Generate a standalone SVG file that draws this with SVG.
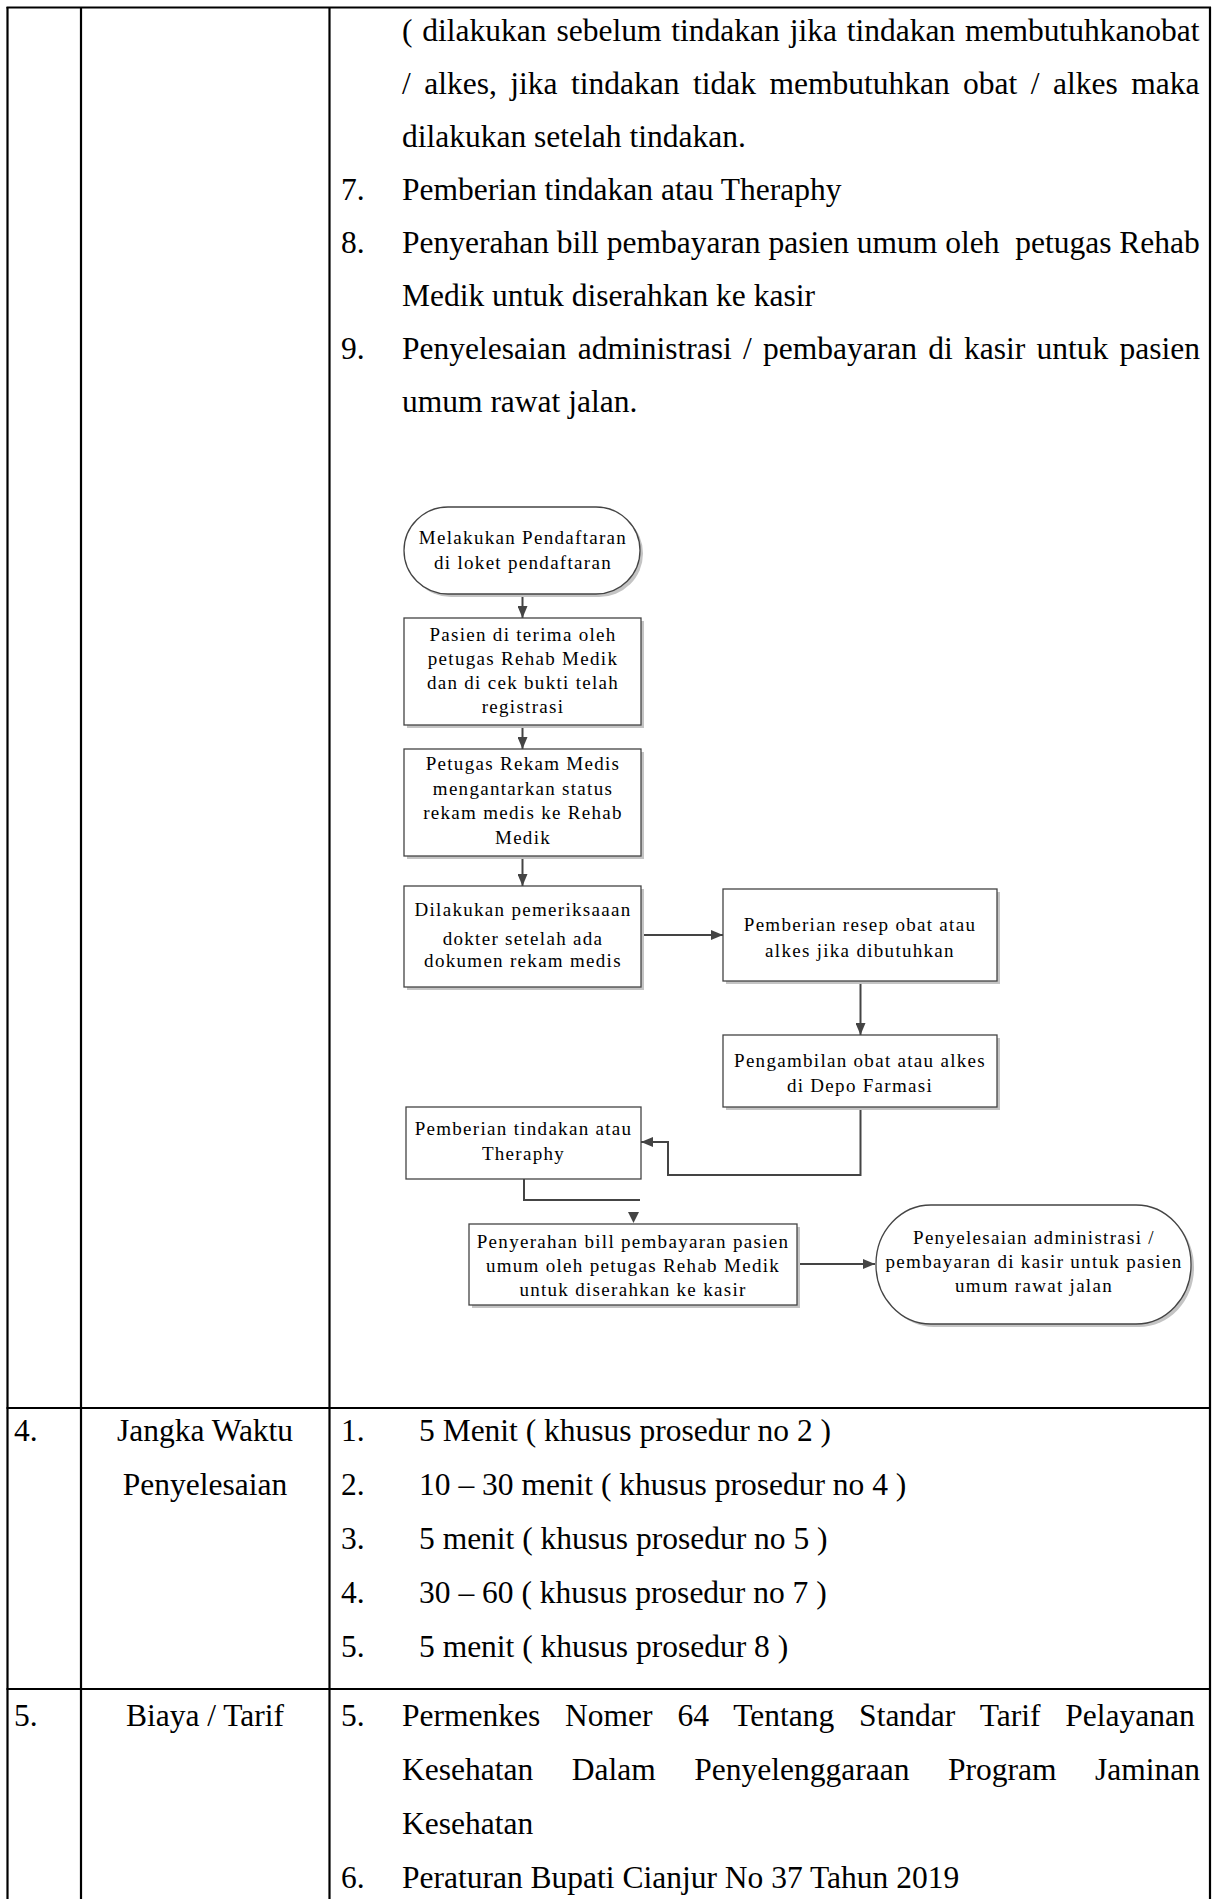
<svg xmlns="http://www.w3.org/2000/svg" width="1219" height="1899" viewBox="0 0 1219 1899">
<style>
.t{font-family:"Liberation Serif","Times New Roman",serif;font-size:31.5px;fill:#000}
.c{text-anchor:middle}
.f{font-family:"Liberation Serif","Times New Roman",serif;font-size:19px;letter-spacing:1.3px;fill:#000;text-anchor:middle}
.grid{stroke:#000;stroke-width:2.2;fill:none}
.node{fill:#fff;stroke:#444;stroke-width:1.3}
.sh{fill:#c4c4c4}
.con{fill:none;stroke:#444;stroke-width:2}
</style>
<defs>
<marker id="ah" viewBox="0 0 12 10" refX="12" refY="5" markerWidth="12" markerHeight="10" markerUnits="userSpaceOnUse" orient="auto">
<path d="M0,0 L12,5 L0,10 Z" fill="#444"/>
</marker>
</defs>
<rect width="1219" height="1899" fill="#fff"/>

<g id="table">
<line class="grid" x1="6.5" y1="7.5" x2="1211" y2="7.5"/>
<line class="grid" x1="7.5" y1="7" x2="7.5" y2="1899"/>
<line class="grid" x1="81" y1="7" x2="81" y2="1899"/>
<line class="grid" x1="329.5" y1="7" x2="329.5" y2="1899"/>
<line class="grid" x1="1210" y1="7" x2="1210" y2="1899"/>
<line class="grid" x1="6.5" y1="1408" x2="1211" y2="1408" stroke-width="2.6"/>
<line class="grid" x1="6.5" y1="1689" x2="1211" y2="1689" stroke-width="2.6"/>
</g>

<g id="procedure-text">
<text class="t" x="402" y="41" word-spacing="2">( dilakukan sebelum tindakan jika tindakan membutuhkanobat</text>
<text class="t" x="402" y="94" word-spacing="5.6">/ alkes, jika tindakan tidak membutuhkan obat / alkes maka</text>
<text class="t" x="402" y="147">dilakukan setelah tindakan.</text>
<text class="t" x="341" y="200">7.</text>
<text class="t" x="402" y="200">Pemberian tindakan atau Theraphy</text>
<text class="t" x="341" y="253">8.</text>
<text class="t" x="402" y="253" style="white-space:pre">Penyerahan bill pembayaran pasien umum oleh  petugas Rehab</text>
<text class="t" x="402" y="306">Medik untuk diserahkan ke kasir</text>
<text class="t" x="341" y="359">9.</text>
<text class="t" x="402" y="359" word-spacing="3.4">Penyelesaian administrasi / pembayaran di kasir untuk pasien</text>
<text class="t" x="402" y="412">umum rawat jalan.</text>
</g>

<g id="connectors">
<line class="con" x1="522.5" y1="594" x2="522.5" y2="618" marker-end="url(#ah)"/>
<line class="con" x1="522.5" y1="725" x2="522.5" y2="749" marker-end="url(#ah)"/>
<line class="con" x1="522.5" y1="856" x2="522.5" y2="886" marker-end="url(#ah)"/>
<line class="con" x1="641" y1="935" x2="723" y2="935" marker-end="url(#ah)"/>
<line class="con" x1="860.5" y1="981" x2="860.5" y2="1035" marker-end="url(#ah)"/>
<polyline class="con" points="860.5,1107 860.5,1175 668,1175 668,1142 641,1142" marker-end="url(#ah)"/>
<polyline class="con" points="524,1179 524,1200 640,1200"/>
<path d="M628,1212 L639,1212 L633.5,1223 Z" fill="#444"/>
<line class="con" x1="797" y1="1264" x2="875" y2="1264" marker-end="url(#ah)"/>
</g>

<g id="n1">
<rect class="sh" x="407" y="510" width="236" height="87" rx="44" ry="43.5"/>
<rect class="node" x="404" y="507" width="236" height="87" rx="44" ry="43.5"/>
<text class="f" x="523" y="544">Melakukan Pendaftaran</text>
<text class="f" x="523" y="569">di loket pendaftaran</text>
</g>

<g id="n2">
<rect class="sh" x="407" y="621" width="237" height="107"/>
<rect class="node" x="404" y="618" width="237" height="107"/>
<text class="f" x="523" y="641">Pasien di terima oleh</text>
<text class="f" x="523" y="665">petugas Rehab Medik</text>
<text class="f" x="523" y="689">dan di cek bukti telah</text>
<text class="f" x="523" y="713">registrasi</text>
</g>

<g id="n3">
<rect class="sh" x="407" y="752" width="237" height="107"/>
<rect class="node" x="404" y="749" width="237" height="107"/>
<text class="f" x="523" y="770">Petugas Rekam Medis</text>
<text class="f" x="523" y="795">mengantarkan status</text>
<text class="f" x="523" y="819">rekam medis ke Rehab</text>
<text class="f" x="523" y="844">Medik</text>
</g>

<g id="n4">
<rect class="sh" x="407" y="889" width="237" height="101"/>
<rect class="node" x="404" y="886" width="237" height="101"/>
<text class="f" x="523" y="916">Dilakukan pemeriksaaan</text>
<text class="f" x="523" y="945">dokter setelah ada</text>
<text class="f" x="523" y="967">dokumen rekam medis</text>
</g>

<g id="n5">
<rect class="sh" x="726" y="892" width="274" height="92"/>
<rect class="node" x="723" y="889" width="274" height="92"/>
<text class="f" x="860" y="931">Pemberian resep obat atau</text>
<text class="f" x="860" y="957">alkes jika dibutuhkan</text>
</g>

<g id="n6">
<rect class="sh" x="726" y="1038" width="274" height="72"/>
<rect class="node" x="723" y="1035" width="274" height="72"/>
<text class="f" x="860" y="1067">Pengambilan obat atau alkes</text>
<text class="f" x="860" y="1092">di Depo Farmasi</text>
</g>

<g id="n7">
<rect class="node" x="406" y="1107" width="235" height="72"/>
<text class="f" x="523.5" y="1135">Pemberian tindakan atau</text>
<text class="f" x="523.5" y="1160">Theraphy</text>
</g>

<g id="n8">
<rect class="sh" x="472" y="1227" width="328" height="81"/>
<rect class="node" x="469" y="1224" width="328" height="81"/>
<text class="f" x="633" y="1248">Penyerahan bill pembayaran pasien</text>
<text class="f" x="633" y="1272">umum oleh petugas Rehab Medik</text>
<text class="f" x="633" y="1296">untuk diserahkan ke kasir</text>
</g>

<g id="n9">
<rect class="sh" x="879" y="1208" width="315" height="119" rx="55" ry="59"/>
<rect class="node" x="876" y="1205" width="315" height="119" rx="55" ry="59"/>
<text class="f" x="1034" y="1244">Penyelesaian administrasi /</text>
<text class="f" x="1034" y="1268">pembayaran di kasir untuk pasien</text>
<text class="f" x="1034" y="1292">umum rawat jalan</text>
</g>

<g id="row4">
<text class="t" x="14" y="1441">4.</text>
<text class="t c" x="205" y="1441">Jangka Waktu</text>
<text class="t c" x="205" y="1495">Penyelesaian</text>
<text class="t" x="341" y="1441">1.</text>
<text class="t" x="419" y="1441">5 Menit ( khusus prosedur no 2 )</text>
<text class="t" x="341" y="1495">2.</text>
<text class="t" x="419" y="1495">10 – 30 menit ( khusus prosedur no 4 )</text>
<text class="t" x="341" y="1549">3.</text>
<text class="t" x="419" y="1549">5 menit ( khusus prosedur no 5 )</text>
<text class="t" x="341" y="1603">4.</text>
<text class="t" x="419" y="1603">30 – 60 ( khusus prosedur no 7 )</text>
<text class="t" x="341" y="1657">5.</text>
<text class="t" x="419" y="1657">5 menit ( khusus prosedur 8 )</text>
</g>

<g id="row5">
<text class="t" x="14" y="1726">5.</text>
<text class="t c" x="205" y="1726">Biaya / Tarif</text>
<text class="t" x="341" y="1726">5.</text>
<text class="t" x="402" y="1726" word-spacing="17">Permenkes Nomer 64 Tentang Standar Tarif Pelayanan</text>
<text class="t" x="402" y="1780" word-spacing="30.7">Kesehatan Dalam Penyelenggaraan Program Jaminan</text>
<text class="t" x="402" y="1834">Kesehatan</text>
<text class="t" x="341" y="1888">6.</text>
<text class="t" x="402" y="1888">Peraturan Bupati Cianjur No 37 Tahun 2019</text>
</g>
</svg>
